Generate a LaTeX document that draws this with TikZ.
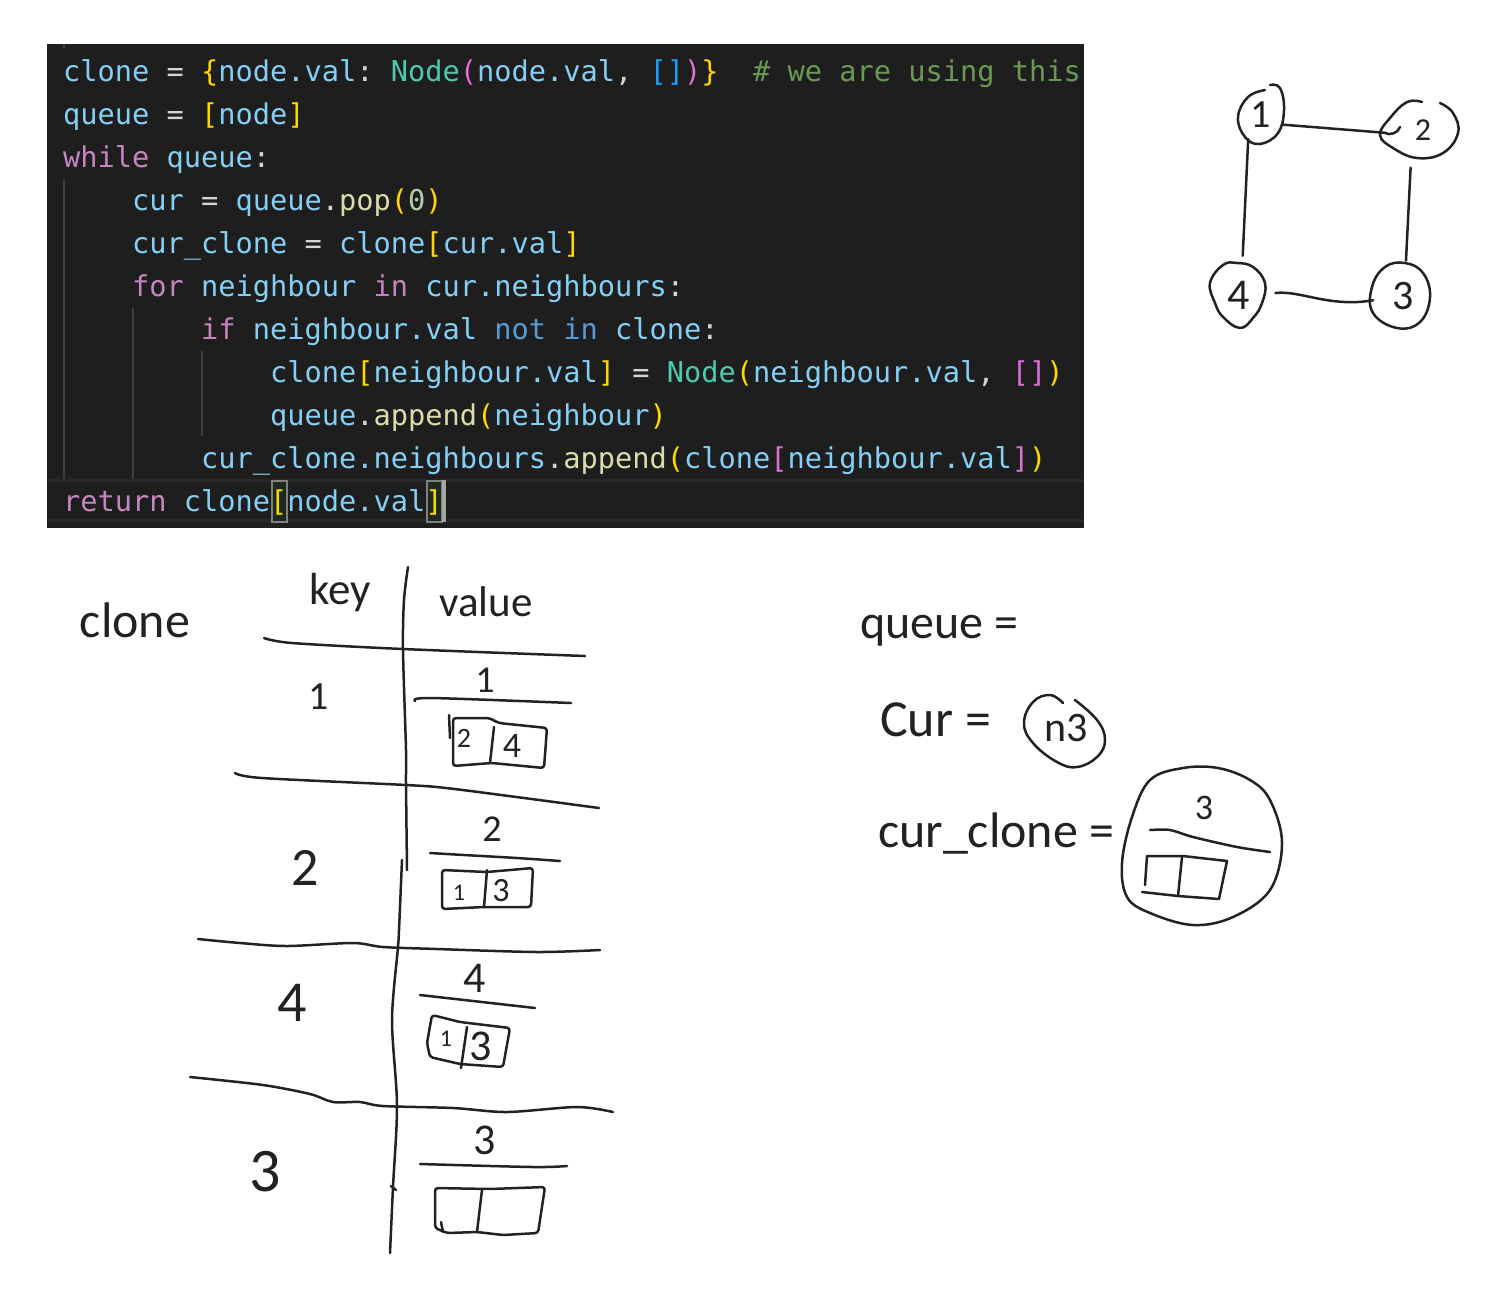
\documentclass[tikz,border=0pt]{standalone}
\usepackage{fontspec}
\usetikzlibrary{shapes.geometric}
\newfontfamily\codefont{DejaVu Sans Mono}
\newfontfamily\handfont{Carlito}
\definecolor{codebg}{HTML}{1E1E1E}
\definecolor{codeline}{HTML}{282828}
\definecolor{guide}{HTML}{404040}
\definecolor{plain}{HTML}{D4D4D4}
\definecolor{ink}{HTML}{222222}
\definecolor{matchbg}{HTML}{1C2A20}
\newcommand{\cv}[1]{\textcolor[HTML]{85CFF5}{#1}}
\newcommand{\cy}[1]{\textcolor[HTML]{FFD700}{#1}}
\newcommand{\cp}[1]{\textcolor[HTML]{DA70D6}{#1}}
\newcommand{\cb}[1]{\textcolor[HTML]{179FFF}{#1}}
\newcommand{\cw}[1]{\textcolor[HTML]{569CD6}{#1}}
\newcommand{\ck}[1]{\textcolor[HTML]{C586C0}{#1}}
\newcommand{\cf}[1]{\textcolor[HTML]{DCDCAA}{#1}}
\newcommand{\ct}[1]{\textcolor[HTML]{4EC9B0}{#1}}
\newcommand{\cc}[1]{\textcolor[HTML]{6A9955}{#1}}
\newcommand{\cn}[1]{\textcolor[HTML]{B5CEA8}{#1}}
\tikzset{
  code/.style={anchor=base west,inner sep=0pt,text=plain,font=\frenchspacing\codefont\fontsize{28.65}{30}\selectfont},
  pen/.style={draw=ink,line width=2.5pt,line cap=round,line join=round},
  hw/.style={inner sep=0pt,text=ink,font=\handfont\fontsize{#1}{#1}\selectfont},
  gnode/.style={ellipse,inner sep=0pt,outer sep=0pt,text=ink,font=\handfont\fontsize{#1}{#1}\selectfont},
  match/.style={line width=1.5pt,draw=gray,fill=matchbg},
}
\begin{document}
\begin{tikzpicture}[x=1pt,y=-1pt]
  \useasboundingbox (0,0) rectangle (1488,1294);
  % editor window
  \fill[codebg] (47,44) rectangle (1084,528);
  \fill[codeline] (47,479) rectangle (1084,482);
  \fill[codeline] (47,519) rectangle (1084,522);
  \draw[guide,line width=1.5pt] (64,179) -- (64,479);
  \draw[guide,line width=1.5pt] (133,308) -- (133,479);
  \draw[guide,line width=1.5pt] (202,351) -- (202,436);
  \draw[guide,line width=1.5pt] (64,44) -- (64,48);
  \draw[match] (272,481) rectangle (287,522);
  \draw[match] (427,481) rectangle (442,522);
  \fill[gray!70] (442,480) rectangle (446,522);
  % code lines
  \node[code] (l1) at (63,81) {\cv{clone} = \cy{\{}\cv{node.val}: \ct{Node}\cp{(}\cv{node.val}, \cb{[]}\cp{)}\cy{\}}\ \ \cc{\# we are using this}};
  \node[code] (l2) at (63,124) {\cv{queue} = \cy{[}\cv{node}\cy{]}};
  \node[code] (l3) at (63,167) {\ck{while} \cv{queue}:};
  \node[code] (l4) at (132,210) {\cv{cur} = \cv{queue}.\cf{pop}\cy{(}\cn{0}\cy{)}};
  \node[code] (l5) at (132,253) {\cv{cur\_clone} = \cv{clone}\cy{[}\cv{cur.val}\cy{]}};
  \node[code] (l6) at (132,296) {\ck{for} \cv{neighbour} \ck{in} \cv{cur.neighbours}:};
  \node[code] (l7) at (201,339) {\ck{if} \cv{neighbour.val} \cw{not in} \cv{clone}:};
  \node[code] (l8) at (270,382) {\cv{clone}\cy{[}\cv{neighbour.val}\cy{]} = \ct{Node}\cy{(}\cv{neighbour.val}, \cp{[]}\cy{)}};
  \node[code] (l9) at (270,425) {\cv{queue}.\cf{append}\cy{(}\cv{neighbour}\cy{)}};
  \node[code] (l10) at (201,468) {\cv{cur\_clone.neighbours}.\cf{append}\cy{(}\cv{clone}\cp{[}\cv{neighbour.val}\cp{]}\cy{)}};
  \node[code] (l11) at (63,511) {\ck{return} \cv{clone}\cy{[}\cv{node.val}\cy{]}};
  % graph
  \node[gnode=40,minimum width=46pt,minimum height=58pt] (n1) at (1261,115) {1};
  \node[gnode=32,minimum width=78pt,minimum height=56pt] (n2) at (1423,130) {2};
  \node[gnode=42,minimum width=60pt,minimum height=65pt] (n3) at (1403,296) {3};
  \node[gnode=44,minimum width=57pt,minimum height=65pt] (n4) at (1239,295) {4};
  \draw[pen] plot[smooth,tension=.7] coordinates {(1265,90) (1248,97) (1238,117) (1245,137) (1260,144) (1278,133) (1284,110) (1280,88) (1270,85)};
  \draw[pen] plot[smooth,tension=.7] coordinates {(1422,102) (1407,102) (1390,118) (1380,135) (1393,148) (1417,158) (1443,153) (1458,133) (1453,113) (1440,103)};
  \draw[pen] plot[smooth cycle,tension=.7] coordinates {(1405,263) (1385,267) (1372,287) (1373,313) (1397,328) (1420,322) (1430,297) (1423,273)};
  \draw[pen] plot[smooth cycle,tension=.7] coordinates {(1237,263) (1223,265) (1210,283) (1215,303) (1223,317) (1240,328) (1253,318) (1262,303) (1265,283) (1253,267)};
  \draw[pen] (n1.336) -- (n2.184);
  \draw[pen] (n2.184) .. controls (1390,136) and (1398,133) .. (1400,127);
  \draw[pen,shorten >=7pt] (n1.242) -- (n4.84);
  \draw[pen,shorten <=11pt,shorten >=3pt] (n2.246) -- (n3.85);
  \draw[pen,shorten <=8pt] (n4.2) .. controls (1300,290) and (1330,308) .. (n3.188);
  % clone table
  \node[hw=50] (clone) at (135,620) {clone};
  \node[hw=45] (key) at (340,592) {key};
  \node[hw=43] (value) at (486,602) {value};
  \draw[pen] plot[smooth] coordinates {(408,567) (404,600) (403,650) (406,750) (406,783) (407,870)};
  \draw[pen] plot[smooth] coordinates {(402,860) (399,930) (398,947) (392,1020) (397,1105) (393,1187) (390,1253)};
  \draw[pen] (391,1186) -- (396,1190);
  \draw[pen] plot[smooth] coordinates {(264,638) (292,643) (403,649) (585,656)};
  \draw[pen] plot[smooth] coordinates {(235,773) (262,778) (406,785) (446,788) (524,798) (599,808)};
  \draw[pen] plot[smooth] coordinates {(198,939) (240,943) (287,946) (353,943) (383,947) (437,949) (537,952) (600,950)};
  \draw[pen] plot[smooth] coordinates {(190,1077) (263,1085) (310,1094) (333,1102) (360,1102) (383,1106) (453,1108) (507,1112) (577,1107) (613,1112)};
  \node[hw=40] (k1) at (319,697) {1};
  \node[hw=54] (k2) at (305,868) {2};
  \node[hw=58] (k4) at (292,1003) {4};
  \node[hw=62] (k3) at (265,1172) {3};
  % value of 1
  \node[hw=38] (v1) at (485,680) {1};
  \draw[pen] plot[smooth] coordinates {(415,701) (431,698) (571,703)};
  \draw[pen,rounded corners=3pt] (453,718) -- (489,718) -- (499,723) -- (547,728) -- (544,768) -- (492,763) -- (453,766) -- cycle;
  \draw[pen] (494,727) -- (490,763);
  \draw[pen] (449,715) -- (450,738);
  \node[hw=28] (b12) at (464,738) {2};
  \node[hw=36] (b14) at (512,746) {4};
  % value of 2
  \node[hw=38] (v2) at (492,829) {2};
  \draw[pen] plot[smooth] coordinates {(430,853) (464,855) (517,858) (560,861)};
  \draw[pen,rounded corners=3pt] (442,870) -- (487,872) -- (533,868) -- (531,907) -- (484,907) -- (442,909) -- cycle;
  \draw[pen] (487,870) -- (484,907);
  \node[hw=24] (b21) at (459,893) {1};
  \node[hw=34] (b23) at (501,891) {3};
  % value of 4
  \node[hw=44] (v4) at (475,978) {4};
  \draw[pen] (420,995) -- (535,1008);
  \draw[pen,rounded corners=3pt] (432,1015) -- (460,1022) -- (510,1028) -- (503,1067) -- (460,1064) -- (430,1057) -- (427,1043) -- cycle;
  \draw[pen] (467,1027) -- (461,1068);
  \node[hw=24] (b41) at (446,1039) {1};
  \node[hw=44] (b43) at (481,1046) {3};
  % value of 3
  \node[hw=44] (v3) at (485,1140) {3};
  \draw[pen] plot[smooth] coordinates {(420,1164) (533,1167) (567,1166)};
  \draw[pen,rounded corners=3pt] (435,1188) -- (490,1189) -- (545,1187) -- (538,1233) -- (503,1235) -- (477,1232) -- (447,1233) -- (435,1228) -- cycle;
  \draw[pen] (482,1190) -- (477,1232);
  \draw[pen] (441,1222) -- (443,1232);
  % variables
  \node[hw=48,anchor=west] (queue) at (860,631) {queue =};
  \node[hw=52,anchor=west] (cur) at (880,720) {Cur =};
  \node[hw=42] (n3val) at (1066,728) {n3};
  \draw[pen] plot[smooth,tension=.7] coordinates {(1063,703) (1050,695) (1033,702) (1024,723) (1033,743) (1057,762) (1077,767) (1097,757) (1105,740) (1097,720) (1075,700)};
  \node[hw=50,anchor=west] (curclone) at (878,833) {cur\_clone =};
  \draw[pen] plot[smooth cycle,tension=.6] coordinates {(1218,768) (1183,768) (1150,780) (1132,817) (1122,863) (1127,897) (1150,913) (1193,925) (1233,917) (1270,890) (1282,843) (1270,800) (1250,780)};
  \node[hw=36] (c3) at (1204,808) {3};
  \draw[pen] plot[smooth] coordinates {(1150,830) (1170,830) (1193,837) (1237,847) (1270,852)};
  \draw[pen] (1145,885) -- (1147,856) -- (1183,856) -- (1227,861) -- (1219,899) -- (1178,896) -- (1142,892);
  \draw[pen] (1182,857) -- (1178,896);
\end{tikzpicture}
\end{document}
